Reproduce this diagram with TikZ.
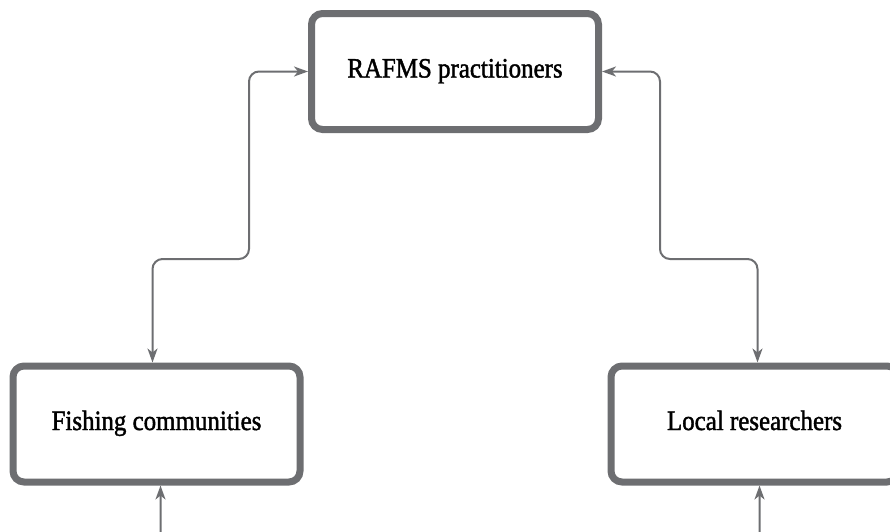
\documentclass[tikz,border=0pt]{standalone}
\usepackage{fontspec}
\setmainfont{Liberation Serif}[FakeStretch=0.89,FakeBold=1.5]
\usetikzlibrary{arrows.meta}
\definecolor{boxgray}{HTML}{6D6E71}

\begin{document}
\begin{tikzpicture}[x=1pt,y=-1pt,
  party/.style={draw=boxgray,line width=7pt,rounded corners=11pt,fill=white,
    minimum width=287pt,minimum height=116pt,text height=17pt,text depth=5pt,
    font=\fontsize{28}{30}\selectfont},
  link/.style={draw=boxgray,line width=2pt,rounded corners=10pt,
    {Stealth[length=14pt,width=10pt,inset=4pt]}-{Stealth[length=14pt,width=10pt,inset=4pt]}}]
\useasboundingbox (0,0) rectangle (890,531);
\clip (0,0) rectangle (890,531);
\node[party] (rafms) at (455,71.5) {RAFMS practitioners};
\node[party] (fishing) at (156.5,424) {Fishing communities};
\node[party] (local) at (754.5,424) {Local researchers};
\draw[link] (rafms.west) -| (249,259) -| ([xshift=-4pt]fishing.north);
\draw[link] (rafms.east) -| (660,259) -| ([xshift=3pt]local.north);
\draw[link] ([xshift=4pt]fishing.south) |- (455,550) -| ([xshift=5pt]local.south);
\end{tikzpicture}
\end{document}
